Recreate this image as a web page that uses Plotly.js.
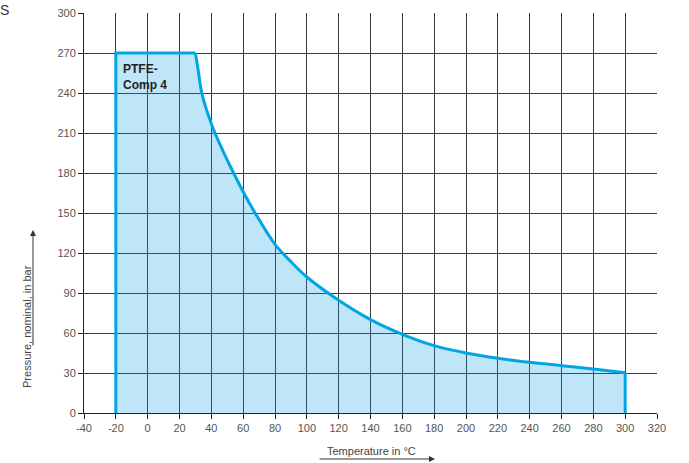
<!DOCTYPE html>
<html>
<head>
<meta charset="utf-8">
<script src="https://cdn.plot.ly/plotly-3.0.1.min.js"></script>
<style>html,body{margin:0;padding:0;background:#fff;}#chart{width:689px;height:463px;}</style>
</head>
<body>
<div id="chart"></div>
<script>
// Left edge and flat top (temperature °C, pressure bar)
const edgeTemp = [-20, -20, 30];
const edgePres = [0, 270, 270];
// Decreasing curve
const curveTemp = [30, 32, 34, 40, 47.5, 54, 60, 67.5, 80, 90, 100, 120, 140, 160, 180, 200, 220, 240, 260, 280, 300];
const curvePres = [270, 255, 240, 217, 196, 180, 166, 150, 126.5, 113.5, 102, 84.5, 70, 59, 50.5, 45, 41, 38, 35.5, 33, 30.2];
// Right edge
const endTemp = [300, 300];
const endPres = [30.2, 0];
const xTicks = [-40, -20, 0, 20, 40, 60, 80, 100, 120, 140, 160, 180, 200, 220, 240, 260, 280, 300, 320];
const yTicks = [0, 30, 60, 90, 120, 150, 180, 210, 240, 270, 300];
const seriesLabel = 'PTFE-<br>Comp 4';

const FONT = '"Liberation Sans", Arial, Helvetica, sans-serif';
const LINE = {color: '#00a6e4', width: 3};
const FILL = 'rgba(5,159,228,0.26)';

const traces = [
  {x: edgeTemp, y: edgePres, type: 'scatter', mode: 'lines', fill: 'tozeroy', fillcolor: FILL,
   line: LINE, hoverinfo: 'skip'},
  {x: curveTemp, y: curvePres, type: 'scatter', mode: 'lines', fill: 'tozeroy', fillcolor: FILL,
   line: Object.assign({shape: 'spline', smoothing: 1}, LINE), hoverinfo: 'skip'},
  {x: endTemp, y: endPres, type: 'scatter', mode: 'lines', line: LINE, hoverinfo: 'skip'}
];

const axisCommon = {
  showgrid: true,
  gridcolor: '#3a3a3a',
  gridwidth: 1,
  zeroline: false,
  showline: true,
  linecolor: '#222',
  linewidth: 1,
  ticks: 'outside',
  ticklen: 5,
  tickcolor: '#222',
  tickwidth: 1,
  tickfont: {family: FONT, size: 11, color: '#555'},
  fixedrange: true
};

const layout = {
  width: 689,
  height: 463,
  margin: {l: 84, r: 32, t: 13, b: 50},
  paper_bgcolor: '#fff',
  plot_bgcolor: '#fff',
  showlegend: false,
  font: {family: FONT},
  xaxis: Object.assign({}, axisCommon, {
    range: [-40, 320],
    tickmode: 'array',
    tickvals: xTicks,
    ticktext: xTicks.map(String)
  }),
  yaxis: Object.assign({}, axisCommon, {
    range: [0, 300],
    tickmode: 'array',
    tickvals: yTicks,
    ticktext: yTicks.map(String)
  }),
  annotations: [
    {xref: 'x', yref: 'y', x: -16.5, y: 265, xanchor: 'left', yanchor: 'top', align: 'left',
     text: '<b>' + seriesLabel + '</b>', showarrow: false,
     font: {family: FONT, size: 12, color: '#222'}},
    {xref: 'paper', yref: 'paper', x: 0.5026, y: -0.095, xanchor: 'center', yanchor: 'middle',
     text: 'Temperature in °C', showarrow: false, font: {family: FONT, size: 11, color: '#444'}},
    {xref: 'paper', yref: 'paper', x: 0.6126, y: -0.115, text: '', showarrow: true,
     ax: -117, ay: 0, arrowhead: 2, arrowsize: 1.2, arrowwidth: 1, arrowcolor: '#333'},
    {xref: 'paper', yref: 'paper', x: -0.0995, y: 0.2175, xanchor: 'center', yanchor: 'middle',
     text: 'Pressure, nominal, in bar', textangle: -90, showarrow: false,
     font: {family: FONT, size: 11, color: '#444'}},
    {xref: 'paper', yref: 'paper', x: -0.089, y: 0.4575, text: '', showarrow: true,
     ax: 0, ay: 117, arrowhead: 2, arrowsize: 1.2, arrowwidth: 1, arrowcolor: '#333'},
    {xref: 'paper', yref: 'paper', x: -0.138, y: 1.0075, xanchor: 'center', yanchor: 'middle',
     text: 'S', showarrow: false, font: {family: FONT, size: 14, color: '#333'}}
  ]
};

Plotly.newPlot('chart', traces, layout, {displayModeBar: false, staticPlot: true});
</script>
</body>
</html>
